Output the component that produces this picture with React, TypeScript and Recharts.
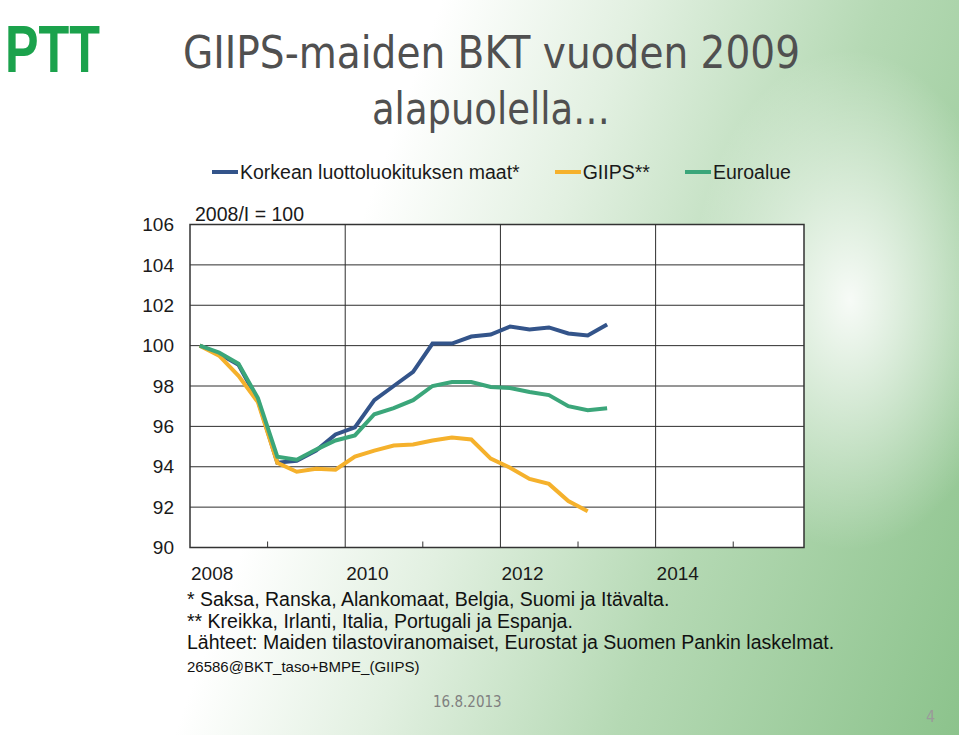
import React from "react";
import {
  LineChart,
  Line,
  XAxis,
  YAxis,
  CartesianGrid,
  ReferenceLine,
  ReferenceArea,
} from "recharts";

// quarterly GDP index, 2008/I = 100
const quarters = [
  "2008Q1", "2008Q2", "2008Q3", "2008Q4",
  "2009Q1", "2009Q2", "2009Q3", "2009Q4",
  "2010Q1", "2010Q2", "2010Q3", "2010Q4",
  "2011Q1", "2011Q2", "2011Q3", "2011Q4",
  "2012Q1", "2012Q2", "2012Q3", "2012Q4",
  "2013Q1", "2013Q2",
];

const korkea = [
  100, 99.6, 99.05, 97.3, 94.2, 94.3, 94.8, 95.6,
  95.95, 97.3, 98.0, 98.7, 100.1, 100.1, 100.45, 100.55,
  100.95, 100.8, 100.9, 100.6, 100.5, 101.05,
];

const giips = [
  100, 99.5, 98.5, 97.2, 94.2, 93.75, 93.9, 93.85,
  94.5, 94.8, 95.05, 95.1, 95.3, 95.45, 95.35, 94.4,
  93.95, 93.4, 93.15, 92.3, 91.8, null,
];

const euroalue = [
  100, 99.65, 99.1, 97.4, 94.5, 94.35, 94.85, 95.3,
  95.55, 96.6, 96.9, 97.3, 98.0, 98.2, 98.2, 97.95,
  97.9, 97.7, 97.55, 97.0, 96.8, 96.9,
];

const yTicks = [90, 92, 94, 96, 98, 100, 102, 104, 106];
const yearTicks = [2008, 2009, 2010, 2011, 2012, 2013, 2014, 2015];
const gridYears = [2010, 2012, 2014];
const X_MIN = 2008;
const X_MAX = 2015.912;

const footnotes = [
  "* Saksa, Ranska, Alankomaat, Belgia, Suomi ja Itävalta.",
  "** Kreikka, Irlanti, Italia, Portugali ja Espanja.",
  "Lähteet: Maiden tilastoviranomaiset, Eurostat ja Suomen Pankin laskelmat.",
];

const series = [
  { key: "korkea", name: "Korkean luottoluokituksen maat*", color: "#33548a" },
  { key: "giips", name: "GIIPS**", color: "#f5b12c" },
  { key: "euro", name: "Euroalue", color: "#3ba67a" },
];

const data = quarters.map((q, i) => ({
  t: Number(q.slice(0, 4)) + (Number(q.slice(5)) - 0.5) / 4,
  korkea: korkea[i],
  giips: giips[i],
  euro: euroalue[i],
}));

const FONT = "'Liberation Sans', Arial, sans-serif";
const TITLE_FONT = "'DejaVu Sans Condensed', 'DejaVu Sans', sans-serif";

const XTick = (props: any) => {
  const { x, y, payload } = props;
  const yr = payload.value;
  if (yr % 2 === 0) {
    return (
      <text x={x + 1} y={y + 32} fontSize={19} fill="#1a1a1a" fontFamily={FONT}>
        {yr}
      </text>
    );
  }
  return <line x1={x} x2={x} y1={y} y2={y - 6} stroke="#333" strokeWidth={1} />;
};

export default function App() {
  return (
    <div
      style={{
        position: "absolute",
        left: 0,
        top: 0,
        width: 959,
        height: 735,
        overflow: "hidden",
        background:
          "radial-gradient(ellipse 160px 250px at 850px 300px, rgba(255,255,255,0.9) 0%, rgba(255,255,255,0) 100%), linear-gradient(110deg, #ffffff 0%, #ffffff 36%, #e2f0e1 52%, #b5d9b4 72%, #8cc38c 100%)",
      }}
    >
      <div style={{ position: "absolute", left: 0, top: 0 }}>
        <LineChart
          width={959}
          height={735}
          data={data}
          margin={{ top: 224.5, right: 155, bottom: 147.5, left: 140 }}
        >
          <CartesianGrid vertical={false} stroke="#2e2e2e" strokeWidth={1} fill="#ffffff" fillOpacity={1} />
          {gridYears.map((yr) => (
            <ReferenceLine key={yr} x={yr} stroke="#2e2e2e" strokeWidth={1} />
          ))}
          <ReferenceArea x1={X_MIN} x2={X_MAX} y1={90} y2={106} fill="none" stroke="#333" strokeWidth={1.5} />
          <XAxis
            dataKey="t"
            type="number"
            domain={[X_MIN, X_MAX]}
            ticks={yearTicks}
            interval={0}
            allowDataOverflow
            axisLine={false}
            tickLine={false}
            tickSize={0}
            tickMargin={0}
            height={40}
            tick={<XTick />}
          />
          <YAxis
            domain={[90, 106]}
            ticks={yTicks}
            interval={0}
            width={50}
            axisLine={false}
            tickLine={false}
            tickSize={0}
            tickMargin={16}
            tick={{ fontSize: 19, fill: "#1a1a1a", fontFamily: FONT }}
          />
          {series.map((s) => (
            <Line
              key={s.key}
              dataKey={s.key}
              name={s.name}
              stroke={s.color}
              strokeWidth={4}
              dot={false}
              type="linear"
              isAnimationActive={false}
            />
          ))}
        </LineChart>
      </div>

      {/* legend */}
      <div
        style={{
          position: "absolute",
          left: 212,
          top: 160,
          height: 24,
          display: "flex",
          alignItems: "center",
          gap: 35,
          fontFamily: FONT,
          fontSize: 19.5,
          color: "#1a1a1a",
        }}
      >
        {series.map((s) => (
          <div key={s.key} style={{ display: "flex", alignItems: "center", whiteSpace: "nowrap" }}>
            <span style={{ display: "inline-block", width: 26, height: 4, background: s.color, marginRight: 2 }} />
            <span>{s.name}</span>
          </div>
        ))}
      </div>

      <svg width={959} height={735} style={{ position: "absolute", left: 0, top: 0, pointerEvents: "none" }}>
        {/* logo */}
        <text
          x={5}
          y={72}
          fontSize={66}
          fontWeight="bold"
          fontFamily={FONT}
          fill="#1ba24c"
          textLength={95}
          lengthAdjust="spacingAndGlyphs"
        >
          PTT
        </text>

        {/* title */}
        <text x={491.5} y={68} textAnchor="middle" fontSize={44} fontFamily={TITLE_FONT} fill="#505050" textLength={617} lengthAdjust="spacingAndGlyphs">
          GIIPS-maiden BKT vuoden 2009
        </text>
        <text x={491} y={124} textAnchor="middle" fontSize={44} fontFamily={TITLE_FONT} fill="#505050" textLength={238} lengthAdjust="spacingAndGlyphs">
          alapuolella…
        </text>

        <text x={195} y={221} fontSize={19.5} fontFamily={FONT} fill="#1a1a1a">
          2008/I = 100
        </text>

        {footnotes.map((line, i) => (
          <text key={i} x={187} y={606 + i * 21.5} fontSize={19.5} fontFamily={FONT} fill="#111">
            {line}
          </text>
        ))}
        <text x={187} y={672} fontSize={15} fontFamily={FONT} fill="#111">
          26586@BKT_taso+BMPE_(GIIPS)
        </text>

        <text x={433} y={707} fontSize={15} fontFamily={TITLE_FONT} fill="#808080">
          16.8.2013
        </text>
        <text x={926} y={722} fontSize={16} fontFamily={TITLE_FONT} fill="#9a9a9a">
          4
        </text>
      </svg>
    </div>
  );
}
